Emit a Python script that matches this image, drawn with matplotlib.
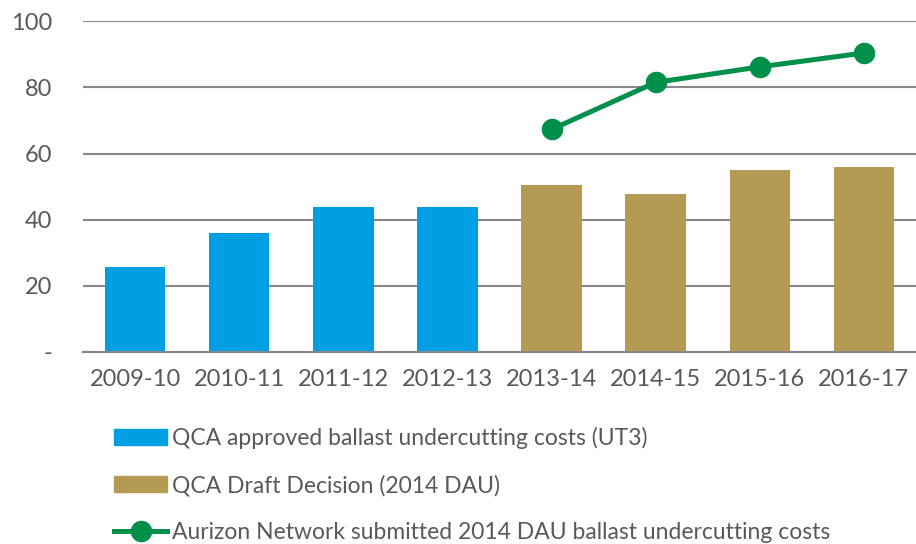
import matplotlib
matplotlib.use("Agg")
import matplotlib.pyplot as plt
from matplotlib.patches import Patch
from matplotlib.lines import Line2D

# Datos
years = ["2009-10", "2010-11", "2011-12", "2012-13",
         "2013-14", "2014-15", "2015-16", "2016-17"]
qca_approved = [25.8, 36.0, 43.8, 43.8]
qca_draft = [50.4, 47.9, 55.1, 55.8]
aurizon = [67.3, 81.5, 86.2, 90.4]

labels = ["QCA approved ballast undercutting costs (UT3)",
          "QCA Draft Decision (2014 DAU)",
          "Aurizon Network submitted 2014 DAU ballast undercutting costs"]

blue = "#009FE3"
gold = "#B59A53"
green = "#00904A"
grey_txt = "#595959"

plt.rcParams["font.family"] = ["Lato", "DejaVu Sans"]

fig = plt.figure(figsize=(9.16, 5.44), dpi=100)
ax = fig.add_axes([0.0906, 0.353, 0.9094, 0.608])

x = list(range(len(years)))
ax.bar(x[:4], qca_approved, width=0.58, color=blue, zorder=2)
ax.bar(x[4:], qca_draft, width=0.58, color=gold, zorder=2)
ax.plot(x[4:], aurizon, color=green, lw=3.6, marker="o", ms=14.5, zorder=3)

ax.set_xlim(-0.5, len(years) - 0.5)
ax.set_ylim(0, 100)
ax.set_yticks([0, 20, 40, 60, 80, 100])
ax.set_yticklabels(["-", "20", "40", "60", "80", "100"])
ax.set_xticks(x)
ax.set_xticklabels(years)
ax.grid(axis="y", color="#888888", lw=1.5, zorder=0)
ax.tick_params(length=0, colors=grey_txt, labelsize=17)
ax.tick_params(axis="x", pad=12)
ax.tick_params(axis="y", pad=22)
for s in ["top", "right", "left"]:
    ax.spines[s].set_visible(False)
ax.spines["bottom"].set_color("#888888")
ax.spines["bottom"].set_linewidth(1.5)

handles = [Patch(color=blue), Patch(color=gold),
           Line2D([], [], color=green, lw=3.6, marker="o", ms=14.5)]
leg = fig.legend(handles, labels, loc="upper left", bbox_to_anchor=(0.114, 0.232),
                 frameon=False, fontsize=16.5, handlelength=2.35, handleheight=0.7,
                 handletextpad=0.2, labelspacing=1.12, borderaxespad=0)
for t in leg.get_texts():
    t.set_color(grey_txt)

fig.savefig("out.png", dpi=100)
